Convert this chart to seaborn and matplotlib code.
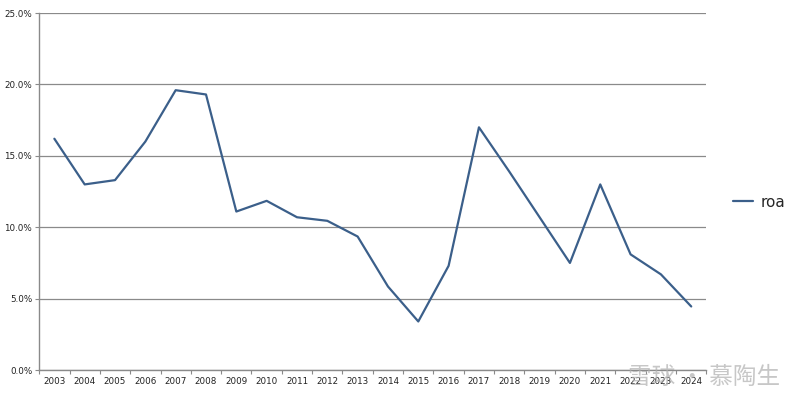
import matplotlib
matplotlib.use("Agg")
import matplotlib.pyplot as plt
import numpy as np
import pandas as pd
import seaborn as sns
from matplotlib.ticker import FixedLocator, PercentFormatter

years = [str(y) for y in range(2003, 2025)]
roa = [16.2, 13.0, 13.3, 16.0, 19.6, 19.3, 11.1, 11.85, 10.7, 10.45, 9.35, 5.85,
       3.4, 7.3, 17.0, 13.9, 10.7, 7.5, 13.0, 8.1, 6.7, 4.45]

sns.set_theme(style="white")
plt.rcParams["font.family"] = ["DejaVu Sans"]

df = pd.DataFrame({"year": years, "roa": roa})

fig = plt.figure(figsize=(8, 3.97), dpi=100)
ax = fig.add_axes([0.049, 0.068, 0.834, 0.899])

sns.lineplot(data=df, x="year", y="roa", ax=ax, color="#3b5f8a", linewidth=1.6,
             label="roa", sort=False)

ax.set_xlim(-0.5, len(years) - 0.5)
ax.set_ylim(0, 25)
ax.set_yticks([0, 5, 10, 15, 20, 25])
ax.yaxis.set_major_formatter(PercentFormatter(decimals=1))
ax.yaxis.grid(True, color="#8a8a8a", linewidth=0.9)
ax.xaxis.grid(False)
ax.set_xlabel("")
ax.set_ylabel("")

ax.xaxis.set_minor_locator(FixedLocator(np.arange(-0.5, len(years), 1.0)))
ax.tick_params(axis="x", which="major", length=0, labelsize=6.3, pad=5, colors="#222222")
ax.tick_params(axis="x", which="minor", length=3, width=0.8, color="#8a8a8a", direction="out")
ax.tick_params(axis="y", which="major", length=3, width=0.8, color="#8a8a8a", direction="out",
               labelsize=6.3, pad=2, labelcolor="#222222")
ax.tick_params(left=True, bottom=False)
ax.tick_params(axis="x", which="minor", bottom=True)

for side in ["top", "right"]:
    ax.spines[side].set_visible(False)
for side in ["left", "bottom"]:
    ax.spines[side].set_color("#8a8a8a")
    ax.spines[side].set_linewidth(1.0)

leg = ax.legend(loc="center left", bbox_to_anchor=(1.02, 0.47), frameon=False,
                fontsize=11, handlelength=1.3, handletextpad=0.5)

fig.text(0.975, 0.05, "雪球 · 慕陶生", ha="right", va="center", fontsize=17,
         color="#b0b0b0", alpha=0.7, family=["Noto Sans CJK SC", "DejaVu Sans"])

fig.savefig("out.png", dpi=100)
